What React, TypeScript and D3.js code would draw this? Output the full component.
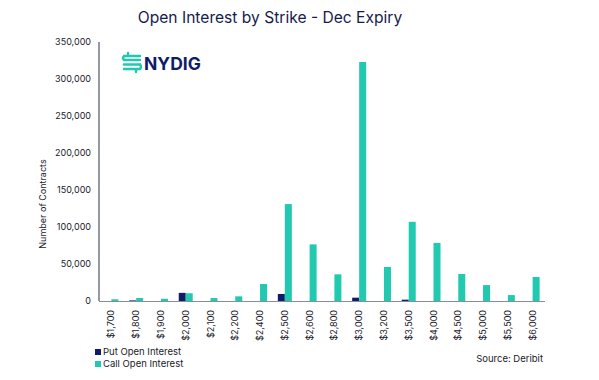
import React from "react";
import * as d3 from "d3";

const strikes = ["$1,700","$1,800","$1,900","$2,000","$2,100","$2,200","$2,400","$2,500","$2,600","$2,800","$3,000","$3,200","$3,500","$4,000","$4,500","$5,000","$5,500","$6,000"];
const putOI = [0, 800, 0, 11000, 0, 0, 0, 9500, 0, 0, 4500, 0, 1800, 0, 0, 0, 0, 0];
const callOI = [2300, 4000, 3000, 10500, 4000, 6300, 23000, 131000, 76500, 36000, 323000, 46000, 107000, 78500, 36500, 21500, 8000, 32500];
const yTicks = [0, 50000, 100000, 150000, 200000, 250000, 300000, 350000];
const seriesKeys = ["put", "call"];
const seriesNames = ["Put Open Interest", "Call Open Interest"];

const W = 599, H = 380;
const NAVY = "#101c68";
const TEAL = "#20c9af";
const FONT = "Inter, 'Noto Sans', Arial, sans-serif";

export default function App() {
  const left = 99, right = 545, top = 42, bottom = 301;
  const x0 = d3.scaleBand<string>().domain(strikes).range([left, right]).padding(0);
  const bw = x0.bandwidth();
  const x1 = d3.scaleBand<string>().domain(seriesKeys).range([bw / 2 - 7, bw / 2 + 7]).padding(0);
  const y = d3.scaleLinear().domain([0, 350000]).range([bottom, top]);
  const fmt = d3.format(",");
  const colors: Record<string, string> = { put: NAVY, call: TEAL };
  const data = strikes.map((s, i) => ({ s, put: putOI[i], call: callOI[i] }));

  return (
    <svg width={W} height={H} style={{ position: "absolute", left: 0, top: 0, background: "#fff" }} fontFamily={FONT}>
      <text x={270} y={23} textAnchor="middle" fontSize={15.6} fill="#161b4c">Open Interest by Strike - Dec Expiry</text>

      {/* logo */}
      <g fill="none" stroke={TEAL} strokeWidth={2.4} strokeLinecap="round">
        <path d="M128 53 V56 H140 M124 56 H128" />
        <path d="M124 60 H140" />
        <path d="M124 64.5 H140" />
        <path d="M124 69 H136 V72 M136 69 H140" />
        <path d="M124 56 Q122 58 124 60" />
        <path d="M140 64.5 Q142 67 140 69" />
      </g>
      <text x={144} y={70} fontSize={17.5} fontWeight={700} fill={NAVY}>NYDIG</text>

      {/* y axis */}
      <line x1={left} x2={left} y1={top} y2={bottom} stroke="#2a2f55" strokeWidth={1} />
      {yTicks.map(t => (
        <text key={t} x={91} y={y(t)} dy="0.35em" textAnchor="end" fontSize={9} fill="#1a1a2a">{fmt(t)}</text>
      ))}
      <text transform={`translate(46,204) rotate(-90)`} textAnchor="middle" fontSize={9} fill="#1a1a2a">Number of Contracts</text>

      {/* bars */}
      {data.map(d => (
        <g key={d.s} transform={`translate(${x0(d.s)},0)`}>
          {seriesKeys.map(k => {
            const v = (d as any)[k] as number;
            if (!v) return null;
            return <rect key={k} x={x1(k)} y={y(v)} width={x1.bandwidth()} height={bottom - y(v)} fill={colors[k]} />;
          })}
        </g>
      ))}

      {/* x axis */}
      <line x1={left} x2={right} y1={bottom + 0.5} y2={bottom + 0.5} stroke="#8a8c99" strokeWidth={1.2} />
      {strikes.map(s => (
        <text key={s} transform={`translate(${(x0(s) as number) + bw / 2 + 3},${310}) rotate(-90)`} textAnchor="end" fontSize={9} fill="#1a1a2a">{s}</text>
      ))}

      {/* legend */}
      {seriesNames.map((n, i) => (
        <g key={n} transform={`translate(95,${349 + i * 12})`}>
          <rect x={0} y={0} width={6} height={6} fill={colors[seriesKeys[i]]} />
          <text x={8} y={3} dy="0.35em" fontSize={9.5} fill="#1a1a2a">{n}</text>
        </g>
      ))}

      <text x={543} y={362} textAnchor="end" fontSize={9.5} fill="#1a1a2a">Source: Deribit</text>
    </svg>
  );
}
